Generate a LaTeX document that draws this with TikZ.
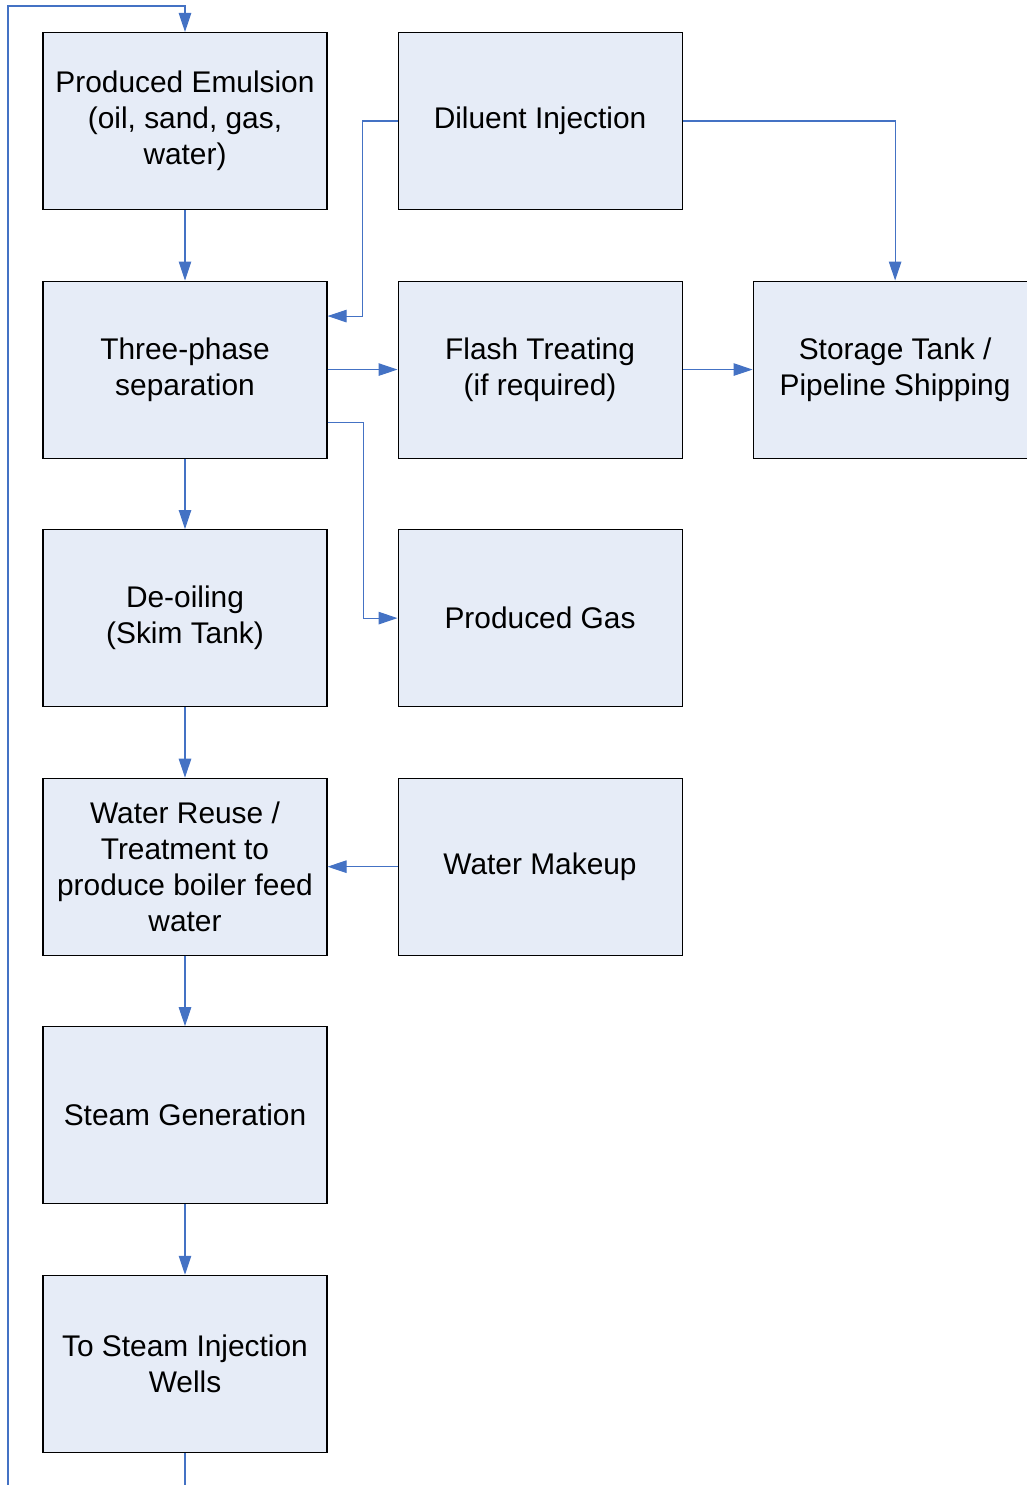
\documentclass[tikz,border=0pt]{standalone}
\usepackage{fontspec}
\setmainfont{Liberation Sans}
\usetikzlibrary{positioning}
\usetikzlibrary{arrows.meta}

\definecolor{boxfill}{RGB}{230,236,247}
\definecolor{flowblue}{RGB}{68,114,196}

\begin{document}
\begin{tikzpicture}[
  stage/.style={rectangle,draw=black,line width=0.6pt,fill=boxfill,minimum width=5.68cm,minimum height=3.54cm,inner sep=0pt,align=center,font=\fontsize{17}{20.5}\selectfont},
  flow/.style={draw=flowblue,line width=0.6pt,-{Triangle[length=0.38cm,width=0.25cm]}},
  node distance=1.41cm and 1.40cm
]
\useasboundingbox (0,0) rectangle (20.52,-29.7);

% main column
\node[stage] (emulsion) at (3.70,-2.42) {Produced Emulsion\\(oil, sand, gas,\\water)};
\node[stage,below=of emulsion] (sep) {Three-phase\\separation};
\node[stage,below=of sep] (deoil) {De-oiling\\(Skim Tank)};
\node[stage,below=of deoil] (reuse) {Water Reuse /\\Treatment to\\produce boiler feed\\water};
\node[stage,below=of reuse] (steam) {Steam Generation};
\node[stage,below=of steam] (wells) {To Steam Injection\\Wells};

% side boxes
\node[stage,right=of emulsion] (diluent) {Diluent Injection};
\node[stage,right=of sep] (flash) {Flash Treating\\(if required)};
\node[stage,right=of flash] (storage) {Storage Tank /\\Pipeline Shipping};
\node[stage,right=of deoil] (gas) {Produced Gas};
\node[stage,right=of reuse] (makeup) {Water Makeup};

% straight flows
\draw[flow] (emulsion) -- (sep);
\draw[flow] (sep) -- (deoil);
\draw[flow] (deoil) -- (reuse);
\draw[flow] (reuse) -- (steam);
\draw[flow] (steam) -- (wells);
\draw[flow] (sep) -- (flash);
\draw[flow] (flash) -- (storage);
\draw[flow] (makeup) -- (reuse);

% elbow flows
\coordinate (sepin) at ([yshift=1.07cm]sep.east);
\coordinate (sepout) at ([yshift=-1.05cm]sep.east);
\draw[flow] (diluent.west) -- ++(-0.71,0) |- (sepin);
\draw[flow] (diluent.east) -| (storage.north);
\draw[flow] (sepout) -- ++(0.71,0) |- (gas.west);

% recycle loop round the left edge
\coordinate (loopbot) at (0.16,-30.2);
\coordinate (looptop) at (0.16,-0.12);
\draw[flow] (wells.south) |- (loopbot) -- (looptop) -| (emulsion.north);

\end{tikzpicture}
\end{document}
